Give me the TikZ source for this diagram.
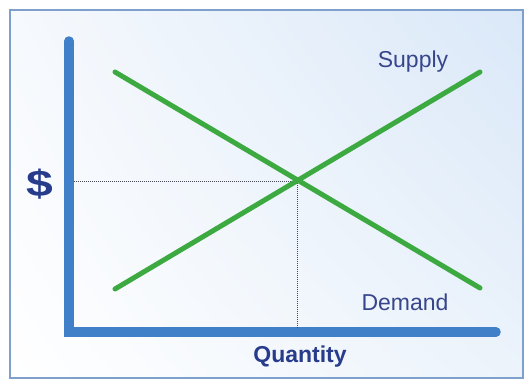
\documentclass[tikz,border=0pt]{standalone}
\usepackage{fontspec}
\setmainfont{Liberation Sans}
\usetikzlibrary{shadings}
\definecolor{bgUL}{RGB}{246,249,253}
\definecolor{bgUR}{RGB}{218,232,248}
\definecolor{bgLR}{RGB}{236,243,251}
\definecolor{axisblue}{RGB}{64,128,200}
\definecolor{curvegreen}{RGB}{60,170,65}
\definecolor{guidegray}{RGB}{70,70,85}
\definecolor{lbltext}{RGB}{55,70,140}
\definecolor{boldtext}{RGB}{40,60,140}
\definecolor{framecol}{RGB}{125,160,205}
\begin{document}
\begin{tikzpicture}[x=1pt,y=-1pt,
  axis/.style={line width=9.5pt,draw=axisblue,line cap=round},
  curve/.style={line width=5pt,draw=curvegreen,line cap=round},
  guide/.style={line width=1pt,draw=guidegray,dash pattern=on 1pt off 1pt},
  lbl/.style={text=lbltext,font=\fontsize{23}{25}\selectfont,inner sep=0pt},
  blbl/.style={text=boldtext,font=\fontsize{23}{25}\selectfont\bfseries,inner sep=0pt}]
\useasboundingbox (0,0) rectangle (529,388);
\fill[white] (0,0) rectangle (529,388);
\shade[upper left=bgUL,upper right=bgUR,lower left=white,lower right=bgLR] (10,10) rectangle (523,378);
\draw[line width=1.5pt,draw=framecol] (10,10) rectangle (523,378);
% axes
\coordinate (ytop) at (69,41);
\coordinate (orig) at (69,332);
\coordinate (xend) at (496,332);
\draw[axis] (ytop) -- (orig) -- (xend);
% curves
\coordinate (d1) at (115,72);
\coordinate (d2) at (480,288);
\coordinate (s1) at (115,289);
\coordinate (s2) at (480,72);
\coordinate (eq) at (297,181);
\coordinate (yq) at (74,181);
\coordinate (xq) at (297,328);
\draw[guide] (yq) -- (eq);
\draw[guide] (eq) -- (xq);
\draw[curve] (d1) -- (d2);
\draw[curve] (s1) -- (s2);
% labels
\node[blbl,font=\fontsize{37}{40}\selectfont\bfseries] (dollar) at (40,184) {\scalebox{1.3}[1]{\$}};
\node[lbl] (supply) at (413,62) {Supply};
\node[lbl] (demand) at (405,302) {Demand};
\node[blbl] (qty) at (300,357) {Quantity};
\end{tikzpicture}
\end{document}
